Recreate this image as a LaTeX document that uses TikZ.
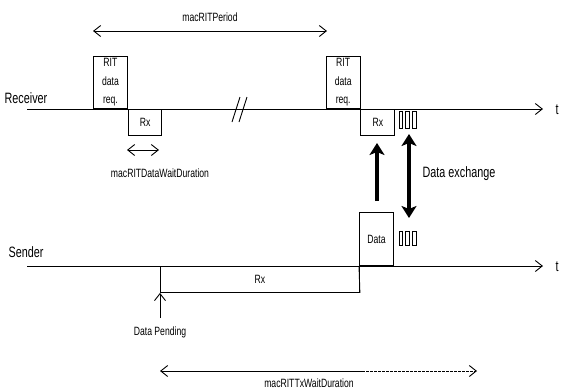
\documentclass[tikz,border=0pt]{standalone}
\usepackage{fontspec}
\setmainfont{Liberation Sans}[FakeStretch=0.72]
\usetikzlibrary{arrows.meta}
\tikzset{
  thin line/.style={line width=0.9pt, black},
  box/.style={draw, thin line, inner sep=0pt, align=center, font=\fontsize{12}{18.5}\selectfont},
  small/.style={inner sep=0pt, font=\fontsize{12}{13}\selectfont},
  big/.style={inner sep=0pt, font=\fontsize{15}{16}\selectfont},
  openarrow/.style={thin line, -{Straight Barb[length=7pt,width=11pt,line width=0.9pt]}},
  openboth/.style={thin line, {Straight Barb[length=7pt,width=11pt,line width=0.9pt]}-{Straight Barb[length=7pt,width=11pt,line width=0.9pt]}},
  thick arrow/.style={line width=3.5pt, -{Stealth[length=12pt,width=15pt,inset=3pt]}},
  thick both/.style={line width=3.5pt, {Stealth[length=12pt,width=15pt,inset=3pt]}-{Stealth[length=12pt,width=15pt,inset=3pt]}}
}
\begin{document}
\begin{tikzpicture}[x=1pt,y=-1pt]
\useasboundingbox (0,0) rectangle (563,389);
% receiver
\node[big, anchor=center] (recv) at (26,98) {Receiver};
\coordinate (r0) at (27,109);
\coordinate (rt) at (543,109);
\draw[openarrow] (r0) -- (rt);
\node[big] (tr) at (557,110) {t};
\node[box, minimum width=34pt, minimum height=52pt, anchor=south west] (rit1) at (93,109) {RIT\\data\\req.};
\node[box, minimum width=33.5pt, minimum height=26pt, anchor=north west] (rx1) at (rit1.south east) {Rx};
\node[box, minimum width=33.5pt, minimum height=52pt, anchor=south west] (rit2) at (326,109) {RIT\\data\\req.};
\node[box, minimum width=34pt, minimum height=26pt, anchor=north west] (rx2) at (rit2.south east) {Rx};
% break marks
\draw[thin line] (232,122) -- (240,97);
\draw[thin line] (239,122) -- (247,97);
% macRITPeriod
\coordinate (p0) at (93,31);
\coordinate (p1) at (327,31);
\draw[openboth] (p0) -- (p1);
\node[small] (period) at (210,17) {macRITPeriod};
% data wait
\coordinate (w0) at (127,150);
\coordinate (w1) at (159,150);
\draw[openboth] (w0) -- (w1);
\node[small] (wait) at (160,173) {macRITDataWaitDuration};
% small rectangles receiver
\draw[thin line] (399,111) rectangle (402.5,128);
\draw[thin line] (405.5,111) rectangle (409,128);
\draw[thin line] (412.5,111) rectangle (416,128);
% sender
\node[big] (send) at (26,252) {Sender};
\coordinate (s0) at (27,266);
\coordinate (st) at (543,266);
\draw[openarrow] (s0) -- (st);
\node[big] (ts) at (557,267) {t};
\node[box, minimum width=199pt, minimum height=26pt, anchor=north west] (srx) at (160,266) {Rx};
\node[box, minimum width=34pt, minimum height=53pt, anchor=south west] (data) at (359,266) {Data};
\draw[thin line] (srx.south east) -- (data.south west);
\draw[thin line] (399,231) rectangle (402.5,245);
\draw[thin line] (405.5,231) rectangle (409,245);
\draw[thin line] (412.5,231) rectangle (416,245);
% data pending
\coordinate (dp) at (160,318);
\draw[openarrow] (dp) -- (srx.south west);
\node[small] (dplabel) at (160,332) {Data Pending};
% tx wait duration
\coordinate (x0) at (160,371);
\coordinate (xm) at (362,371);
\coordinate (x1) at (477,371);
\draw[thin line, {Straight Barb[length=7pt,width=11pt,line width=0.9pt]}-] (x0) -- (xm);
\draw[openarrow, dash pattern=on 2.5pt off 1.5pt] (xm) -- (x1);
\node[small] (txlabel) at (309,383) {macRITTxWaitDuration};
% data exchange arrows
\coordinate (ua0) at (377,201);
\coordinate (ua1) at (377,143);
\draw[thick arrow] (ua0) -- (ua1);
\coordinate (da0) at (409,134);
\coordinate (da1) at (409,218);
\draw[thick both] (da0) -- (da1);
\node[big] (dx) at (459,174) {Data exchange};
\end{tikzpicture}
\end{document}
